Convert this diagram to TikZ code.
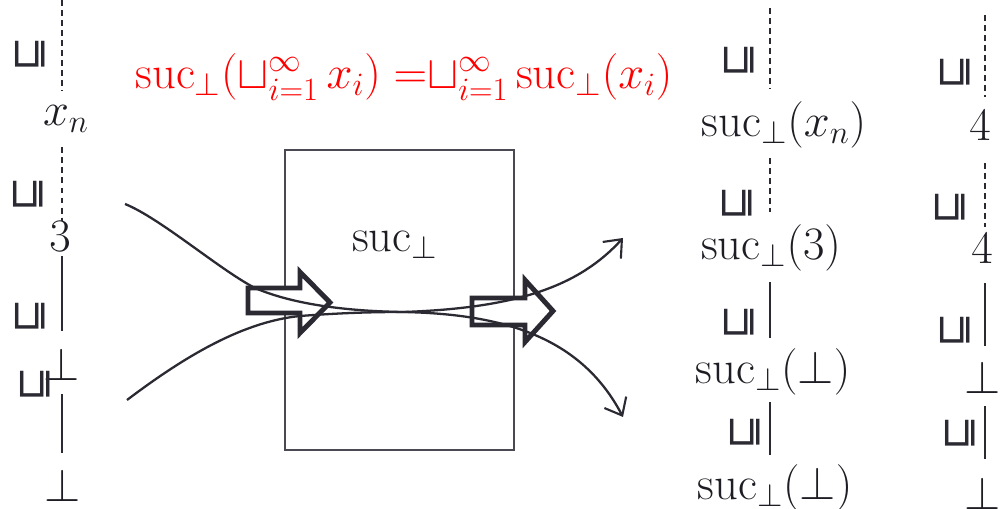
\RequirePackage{fix-cm}
\documentclass[tikz,border=0pt]{standalone}
\usepackage{fontspec}
\newfontfamily\djv{DejaVu Sans}
\usetikzlibrary{arrows.meta}
\definecolor{ink}{HTML}{2B2A33}
\definecolor{redtxt}{HTML}{FF0000}
\tikzset{
  lbl/.style={inner sep=0pt, outer sep=0pt, text=ink!70!black, font=\fontsize{26.5}{32}\selectfont},
  ord/.style={inner sep=0pt, outer sep=0pt, rotate=90, text=ink, font=\djv\fontsize{23.5}{28}\selectfont},
  dline/.style={draw=ink, line width=0.8pt, dash pattern=on 3.4pt off 2.3pt},
  sline/.style={draw=ink, line width=0.85pt},
  flow/.style={draw=ink, line width=1.3pt, -{Straight Barb[length=8.5pt,width=14pt,line width=1.2pt]}},
  fat/.style={draw=ink, fill=white, line width=2.8pt, line join=miter, miter limit=10},
  boxst/.style={draw=ink!85, line width=0.7pt},
}
\begin{document}
\begin{tikzpicture}[x=0.02cm, y=-0.02cm]
\useasboundingbox (0,0) rectangle (1000,509);

% ---------- left column ----------
\coordinate (cL) at (62,0);
\node[ord] (l1) at (30,54) {⊑};
\node[lbl] (xn) at (66,119) {$x_n$};
\node[ord] (l2) at (28,194) {⊑};
\node[lbl] (three) at (60,236) {$3$};
\node[ord] (l3) at (30,316) {⊑};
\node[lbl] (botA) at (62,364) {$\perp$};
\node[ord] (l4) at (35,384) {⊑};
\node[lbl] (botB) at (63,485) {$\perp$};
\draw[dline, shorten >=8.5pt] (cL) -- (xn.north -| cL);
\draw[dline, shorten <=8.5pt] (xn.south -| cL) -- (three.north -| cL);
\draw[sline, shorten <=3pt, shorten >=9.6pt] (three.south -| cL) -- (botA.north -| cL);
\draw[sline, shorten <=8pt, shorten >=9pt] (botA.south -| cL) -- (botB.north -| cL);

% ---------- right column 1 ----------
\coordinate (cR1) at (770,8);
\node[ord] (r1) at (739,60) {⊑};
\node[lbl] (sx) at (784,125) {$\mathrm{suc}_\perp(x_n)$};
\node[ord] (r2) at (737,203) {⊑};
\node[lbl] (s3) at (771,248) {$\mathrm{suc}_\perp(3)$};
\node[ord] (r3) at (739,322) {⊑};
\node[lbl] (sb1) at (773,372) {$\mathrm{suc}_\perp(\perp)$};
\node[ord] (r4) at (745,432) {⊑};
\node[lbl] (sb2) at (775,488) {$\mathrm{suc}_\perp(\perp)$};
\draw[dline, shorten >=7pt] (cR1) -- (sx.north -| cR1);
\draw[dline, shorten <=5.7pt, shorten >=7.4pt] (sx.south -| cR1) -- (s3.north -| cR1);
\draw[sline, shorten <=6.2pt, shorten >=6.2pt] (s3.south -| cR1) -- (sb1.north -| cR1);
\draw[sline, shorten <=4pt, shorten >=5.7pt] (sb1.south -| cR1) -- (sb2.north -| cR1);

% ---------- right column 2 ----------
\coordinate (cR2) at (985,15);
\node[ord] (q1) at (955,72) {⊑};
\node[lbl] (four1) at (980,125) {$4$};
\node[ord] (q2) at (950,207) {⊑};
\node[lbl] (four2) at (982,248) {$4$};
\node[ord] (q3) at (955,330) {⊑};
\node[lbl] (botC) at (983,377) {$\perp$};
\node[ord] (q4) at (960,433) {⊑};
\node[lbl] (botD) at (983,493) {$\perp$};
\draw[dline, shorten >=7.4pt] (cR2) -- (four1.north -| cR2);
\draw[dline, shorten <=13pt, shorten >=3.4pt] (four1.south -| cR2) -- (four2.north -| cR2);
\draw[sline, shorten <=11.3pt, shorten >=8.5pt] (four2.south -| cR2) -- (botC.north -| cR2);
\draw[sline, shorten <=7.4pt, shorten >=10pt] (botC.south -| cR2) -- (botD.north -| cR2);

% ---------- red formula ----------
\node[inner sep=0pt, text=redtxt, font=\fontsize{26.5}{32}\selectfont] (eq) at (404,77)
  {$\mathrm{suc}_\perp({\sqcup}_{i=1}^{\infty}\, x_i)\;{=}{\sqcup}_{i=1}^{\infty}\, \mathrm{suc}_\perp(x_i)$};

% ---------- box ----------
\node[boxst, minimum width=4.58cm, minimum height=6cm, inner sep=0pt] (box) at (399.5,300) {};
\node[lbl] (boxlbl) at (395,245) {$\mathrm{suc}_\perp$};

% ---------- block arrows ----------
\draw[fat] (248,288) -- (300,288) -- (300,272) -- (330,302.5) -- (300,333) -- (300,313) -- (248,313) -- cycle;
\draw[fat] (472,298) -- (525,298) -- (525,280) -- (553,311) -- (525,342) -- (525,325) -- (472,325) -- cycle;

% ---------- flows ----------
\coordinate (a0) at (125,204);
\coordinate (b0) at (127,400);
\coordinate (cx) at (403,312);
\coordinate (a1) at (623,417);
\coordinate (b1) at (623,238);
\draw[flow] (a0) .. controls (160,218) and (220,270) .. (255,288)
  .. controls (290,303) and (340,311) .. (cx)
  .. controls (500,314) and (580,335) .. (a1);
\draw[flow] (b0) .. controls (180,360) and (240,322) .. (300,316)
  .. controls (340,313) and (370,312) .. (cx)
  .. controls (520,308) and (580,285) .. (b1);
\end{tikzpicture}
\end{document}
